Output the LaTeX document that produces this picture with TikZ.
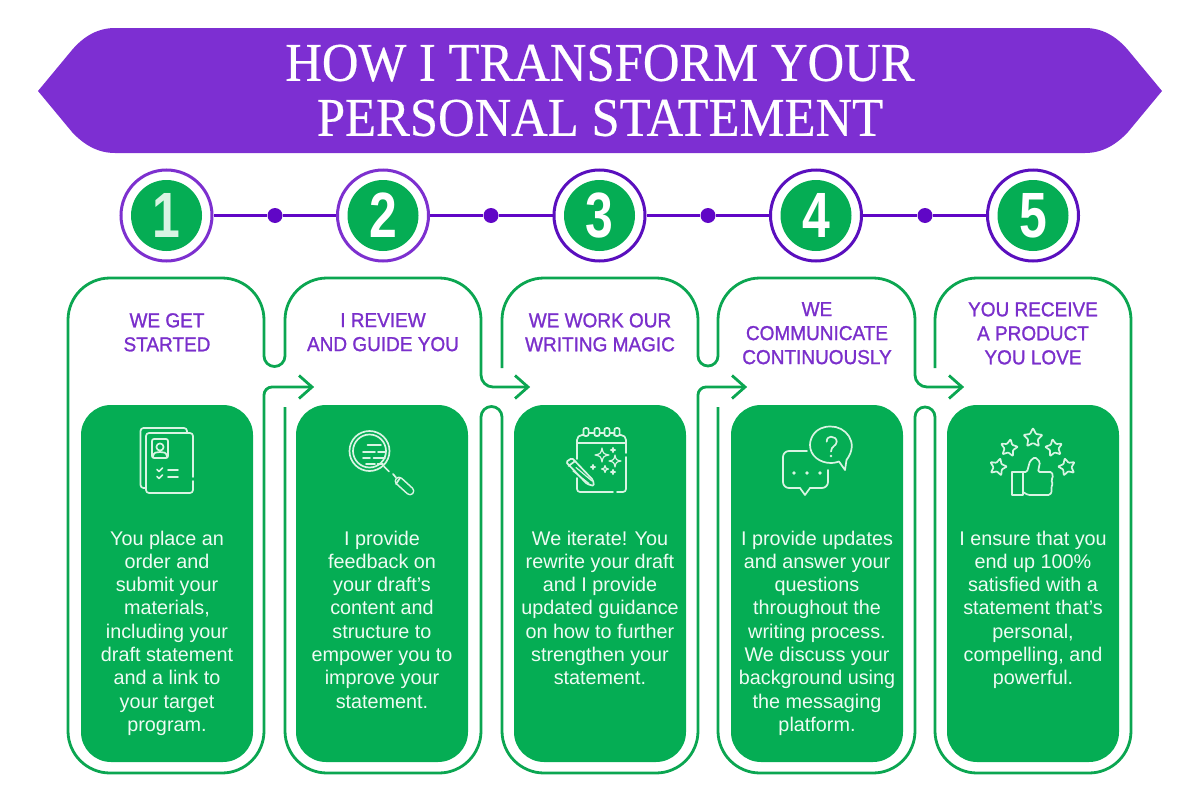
\documentclass[tikz,border=0pt]{standalone}
\usepackage{fontspec}
\setmainfont{Liberation Sans}
\newfontfamily\titlef[FakeStretch=0.93,FakeBold=0.4]{Liberation Serif}
\newfontfamily\headf[FakeStretch=0.94,FakeBold=1.2]{Liberation Sans}
\newfontfamily\digitf[FakeStretch=0.78]{Liberation Sans}
\usetikzlibrary{calc}
\definecolor{bannerc}{HTML}{7D2FD2}
\definecolor{ringa}{HTML}{7D30CF}
\definecolor{ringb}{HTML}{5A0FBE}
\definecolor{dotc}{HTML}{6006C6}
\definecolor{greenc}{HTML}{05AD54}
\definecolor{linec}{HTML}{0BA651}
\definecolor{headc}{HTML}{7A2FCB}
\definecolor{bodyc}{HTML}{EEFBF3}
\definecolor{iconc}{HTML}{D9F4E3}
\tikzset{
  outline/.style={draw=linec,line width=2.8pt,line join=round},
  chevron/.style={draw=linec,line width=2.8pt,line join=miter},
  ring/.style={circle,draw=#1,line width=3pt,fill=white,minimum size=91pt,inner sep=0pt},
  badge/.style={circle,fill=greenc,minimum size=71pt,inner sep=0pt,text=white,font=\digitf\bfseries\fontsize{64}{64}\selectfont},
  stepdot/.style={circle,fill=dotc,minimum size=15pt,inner sep=0pt},
  linkline/.style={draw=dotc,line width=3pt},
  panel/.style={rounded corners=30pt,fill=greenc,minimum width=172pt,minimum height=357pt,inner sep=0pt},
  headtext/.style={anchor=north,inner sep=0pt,align=center,text=headc,font=\headf\fontsize{20.2}{24}\selectfont},
  bodytext/.style={anchor=north,inner sep=0pt,align=center,text=bodyc,font=\fontsize{19.8}{23.3}\selectfont},
  icon/.style={draw=iconc,line width=1.7pt,line cap=round,line join=round},
}
\newcommand{\spark}[3]{%
  \draw[icon,line width=1.2pt] (#1,#2-#3) .. controls (#1+.18*#3,#2-.18*#3) .. (#1+#3,#2)
    .. controls (#1+.18*#3,#2+.18*#3) .. (#1,#2+#3)
    .. controls (#1-.18*#3,#2+.18*#3) .. (#1-#3,#2)
    .. controls (#1-.18*#3,#2-.18*#3) .. cycle;}
\newcommand{\fivestar}[4]{%
  \draw[icon,shift={(#1,#2)},rotate=#4,rounded corners=.8pt]
    (-90:#3) -- (-54:.5*#3) -- (-18:#3) -- (18:.5*#3) -- (54:#3) -- (90:.5*#3)
    -- (126:#3) -- (162:.5*#3) -- (198:#3) -- (234:.5*#3) -- cycle;}
\begin{document}
\begin{tikzpicture}[x=1pt,y=-1pt]
\useasboundingbox (0,0) rectangle (1200,803);
% banner
\fill[bannerc] (38,91) -- (72,50) .. controls (84,36) and (98,28) .. (115,28) -- (1085,28)
  .. controls (1102,28) and (1116,36) .. (1128,50) -- (1162,91) -- (1128,132)
  .. controls (1116,145) and (1102,153) .. (1085,153) -- (115,153)
  .. controls (98,153) and (84,145) .. (72,132) -- cycle;
\node[inner sep=0pt,align=center,text=white,font=\titlef\fontsize{54.5}{55}\selectfont] (title) at (600,90.5) {HOW I TRANSFORM YOUR\\PERSONAL STATEMENT};
% step badges
\node[ring=ringa] (c1) at (166.5,215.5) {};
\node[ring=ringa] (c2) at (383,215.5) {};
\node[ring=ringb] (c3) at (599.5,215.5) {};
\node[ring=ringb] (c4) at (816,215.5) {};
\node[ring=ringb] (c5) at (1033,215.5) {};
\node[badge,text=iconc] (n1) at (c1) {1};
\node[badge] (n2) at (c2) {2};
\node[badge] (n3) at (c3) {3};
\node[badge] (n4) at (c4) {4};
\node[badge] (n5) at (c5) {5};
\node[stepdot] (d1) at (275,215.5) {};
\node[stepdot] (d2) at (491,215.5) {};
\node[stepdot] (d3) at (708,215.5) {};
\node[stepdot] (d4) at (925,215.5) {};
\draw[linkline] (c1) -- (d1); \draw[linkline] (d1) -- (c2);
\draw[linkline] (c2) -- (d2); \draw[linkline] (d2) -- (c3);
\draw[linkline] (c3) -- (d3); \draw[linkline] (d3) -- (c4);
\draw[linkline] (c4) -- (d4); \draw[linkline] (d4) -- (c5);
% outline
\coordinate (a1) at (312,387);
\coordinate (a2) at (528,387);
\coordinate (a3) at (745,387);
\coordinate (a4) at (962,387);
\draw[outline] (a1) -- (272,387) arc[start angle=-90,end angle=-180,radius=8] [rounded corners=42pt]
  -- (264,773) -- (68,773) -- (68,278) -- (264,278) [sharp corners] -- (264,356)
  arc[start angle=180,end angle=0,radius=10.5] [rounded corners=42pt]
  -- (285,278) -- (481,278) [sharp corners] -- (481,375) arc[start angle=180,end angle=90,radius=12] -- (a2);
\draw[outline,rounded corners=42pt] (285,407) -- (285,773) -- (481,773) [sharp corners] -- (481,417)
  arc[start angle=180,end angle=360,radius=10.5] [rounded corners=42pt]
  -- (502,773) -- (698,773) [sharp corners] -- (698,395) arc[start angle=180,end angle=270,radius=8] -- (a3);
\draw[outline,rounded corners=42pt] (502,368) -- (502,278) -- (698,278) [sharp corners] -- (698,356)
  arc[start angle=180,end angle=0,radius=10] [rounded corners=42pt]
  -- (718,278) -- (915,278) [sharp corners] -- (915,375) arc[start angle=180,end angle=90,radius=12] -- (a4);
\draw[outline,rounded corners=42pt] (718,407) -- (718,773) -- (915,773) [sharp corners] -- (915,417)
  arc[start angle=180,end angle=360,radius=10] [rounded corners=42pt]
  -- (935,773) -- (1131,773) -- (1131,278) -- (935,278) -- (935,368);
\draw[chevron] ($(a1)+(-13,-11.5)$) -- (a1) -- ($(a1)+(-13,11.5)$);
\draw[chevron] ($(a2)+(-13,-11.5)$) -- (a2) -- ($(a2)+(-13,11.5)$);
\draw[chevron] ($(a3)+(-13,-11.5)$) -- (a3) -- ($(a3)+(-13,11.5)$);
\draw[chevron] ($(a4)+(-13,-11.5)$) -- (a4) -- ($(a4)+(-13,11.5)$);
% panels
\node[panel] (b1) at (167,583.5) {};
\node[panel] (b2) at (382,583.5) {};
\node[panel] (b3) at (600,583.5) {};
\node[panel] (b4) at (817,583.5) {};
\node[panel] (b5) at (1033,583.5) {};
% headings
\node[headtext] (h1) at (167,313) {WE GET\\STARTED};
\node[headtext] (h2) at (383,313) {I REVIEW\\AND GUIDE YOU};
\node[headtext] (h3) at (600,313) {WE WORK OUR\\WRITING MAGIC};
\node[headtext] (h4) at (817,302) {WE\\COMMUNICATE\\CONTINUOUSLY};
\node[headtext] (h5) at (1033,302) {YOU RECEIVE\\A PRODUCT\\YOU LOVE};
% body text
\node[bodytext] (t1) at (167,530.5) {You place an\\order and\\submit your\\materials,\\including your\\draft statement\\and a link to\\your target\\program.};
\node[bodytext] (t2) at (382,530.5) {I provide\\feedback on\\your draft's\\content and\\structure to\\empower you to\\improve your\\statement.};
\node[bodytext] (t3) at (600,530.5) {We iterate! You\\rewrite your draft\\and I provide\\updated guidance\\on how to further\\strengthen your\\statement.};
\node[bodytext] (t4) at (817,530.5) {I provide updates\\and answer your\\questions\\throughout the\\writing process.\\We discuss your\\background using\\the messaging\\platform.};
\node[bodytext] (t5) at (1033,530.5) {I ensure that you\\end up 100\%\\satisfied with a\\statement that's\\personal,\\compelling, and\\powerful.};
% icon 1: documents
\draw[icon,rounded corners=3pt] (146,488) -- (140.5,488) -- (140.5,428) -- (187,428) -- (187,433);
\draw[icon,rounded corners=3pt] (193,477) -- (193,433) -- (146,433) -- (146,493) -- (193,493) -- (193,481);
\draw[icon,rounded corners=2pt] (152,439) rectangle (168,458);
\draw[icon] (160,447) circle[radius=3.6];
\draw[icon] (153,457) .. controls (153,452) and (157,452) .. (160,452) .. controls (163,452) and (167,452) .. (167,457);
\draw[icon] (157,469.5) -- (159,471.5) -- (162.5,468);
\draw[icon] (157,476.5) -- (159,478.5) -- (162.5,475);
\draw[icon] (168,470) -- (178,470);
\draw[icon] (168,477) -- (178,477);
% icon 2: magnifier
\draw[icon] (369.5,451) circle[radius=20];
\draw[icon] (369.5,451) circle[radius=16.5];
\draw[icon] (367.5,445) -- (381,445);
\draw[icon] (363,452) -- (375,452) (378,452) -- (385,452);
\draw[icon] (363,458) -- (370,458) (373.5,458) -- (385,458);
\draw[icon] (366,464) -- (375,464) (377.5,464) -- (383,464);
\draw[icon] (384,466.5) -- (389,471.5);
\draw[icon] (393,474) -- (396,477.5);
\draw[icon,line width=9pt] (399,481) -- (410,491);
\draw[draw=greenc,line width=5.8pt,line cap=round] (399,481) -- (410,491);
\draw[icon] (400,478) -- (396,484);
% icon 3: notepad
\draw[icon,rounded corners=5pt] (587,435) -- (577,435) -- (577,459);
\draw[icon,rounded corners=5pt] (614,435) -- (626,435) -- (626,453);
\draw[icon,rounded corners=3pt] (626,457) -- (626,492) -- (617,492);
\draw[icon,rounded corners=3pt] (577,478) -- (577,492) -- (613,492);
\draw[icon] (577,443) -- (626,443);
\draw[icon] (586,433) -- (617,433);
\foreach \rx in {586,597,607,617}{
  \draw[icon,fill=greenc,rounded corners=2pt] (\rx-2.6,428) rectangle (\rx+2.6,436);
}
\draw[icon,rounded corners=1.5pt] (566,462) -- (572,458) -- (593,480) -- (594,486) -- (587,484) -- cycle;
\draw[icon] (568.5,466) -- (574.5,461.5);
\draw[icon,line width=1.2pt] (573,471) -- (589,483.5) (576,467.5) -- (592,481);
\spark{602}{455}{7}
\spark{615}{461}{6}
\spark{605}{469}{3.5}
\spark{613}{450}{2.4}
\spark{613}{472}{2.4}
\spark{593}{467}{2.4}
% icon 4: chat
\draw[icon] (846.5,460) .. controls (860,442) and (845,426) .. (830.5,426.5)
  .. controls (815,426.5) and (810,438) .. (810,445)
  .. controls (810,456) and (820,463) .. (831,463) .. controls (835,463) and (837,462) .. (839,461.5)
  -- (845,470) -- cycle;
\draw[icon] (826.7,441.7) .. controls (826.7,438) and (829,436.7) .. (831,436.7) .. controls (834,436.7) and (836.7,438.5) .. (836.7,441.7)
  .. controls (836.7,446) and (831,446) .. (831,451.5);
\fill[iconc] (831,456) circle[radius=1.3];
\draw[icon,rounded corners=6pt] (807,451) -- (783,451) -- (783,488) -- (800,488);
\draw[icon] (800,488) -- (805,495) -- (810,488);
\draw[icon,rounded corners=6pt] (810,488) -- (828,488) -- (828,470);
\fill[iconc] (794,473) circle[radius=1.8];
\fill[iconc] (807,473) circle[radius=1.8];
\fill[iconc] (820,473) circle[radius=1.8];
% icon 5: stars and thumb
\fivestar{1033}{438}{10}{0}
\fivestar{1009}{448}{9}{-10}
\fivestar{1054}{448}{9}{10}
\fivestar{998}{467}{9}{-15}
\fivestar{1067}{467}{9}{15}
\draw[icon] (1012,472) rectangle (1023,495);
\draw[icon,rounded corners=1.5pt] (1023,472) -- (1027,472) -- (1030,461) -- (1035,457) -- (1040,462) -- (1038,472)
  -- (1052,472) -- (1053,478) -- (1051,480) -- (1053,484) -- (1051,487) -- (1052,491) -- (1050,495) -- (1028,495) -- (1023,492);
\end{tikzpicture}
\end{document}
